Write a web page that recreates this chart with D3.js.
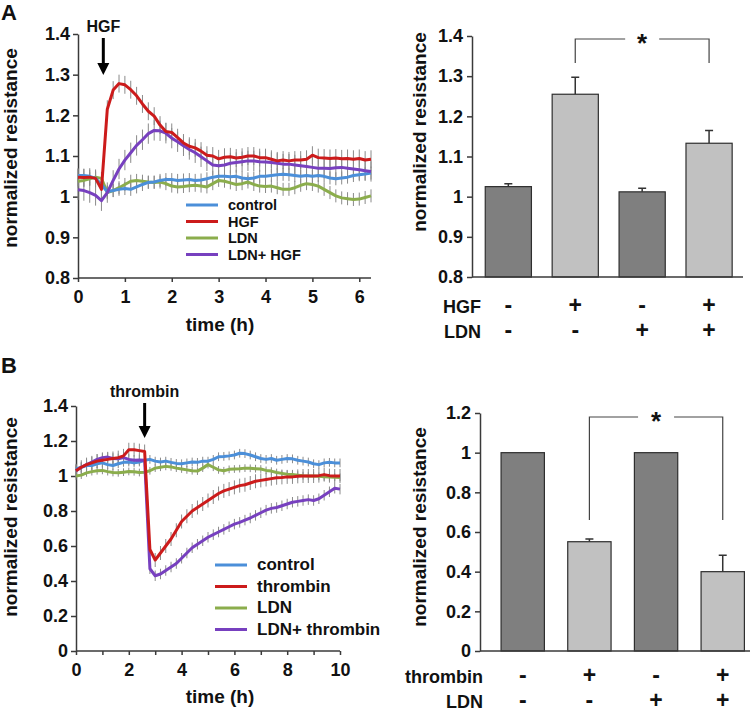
<!DOCTYPE html>
<meta charset="utf-8">
<style>
body { margin: 0; background: #fff; }
svg text { font-family: "Liberation Sans", Arial, sans-serif; font-weight: bold; fill: #111; }
.axis path, .axis line { stroke: #3a3a3a; stroke-width: 1.5px; }
.axis text { font-size: 18px; }
.err { stroke: #8a8a8a; stroke-width: 1px; }
</style>
<svg width="750" height="712"></svg>
<script src="https://d3js.org/d3.v7.min.js"></script>
<script>

// ---- panel A, time course (sampled every 0.125 h) ----
var stepA = 0.125;
var controlA = [
  1.052, 1.052, 1.050, 1.045, 1.030, 1.012, 1.015, 1.018,
  1.020, 1.018, 1.024, 1.030, 1.035, 1.036, 1.040, 1.042,
  1.042, 1.040, 1.041, 1.042, 1.040, 1.041, 1.044, 1.048,
  1.050, 1.050, 1.049, 1.050, 1.046, 1.044, 1.046, 1.050,
  1.050, 1.052, 1.054, 1.055, 1.054, 1.052, 1.050, 1.052,
  1.050, 1.052, 1.050, 1.046, 1.044, 1.046, 1.048, 1.052,
  1.054, 1.056, 1.058];
var hgfA = [
  1.048, 1.047, 1.048, 1.045, 1.018, 1.215, 1.262, 1.278,
  1.275, 1.263, 1.248, 1.228, 1.210, 1.198, 1.176, 1.160,
  1.158, 1.145, 1.132, 1.124, 1.120, 1.112, 1.102, 1.100,
  1.093, 1.097, 1.098, 1.095, 1.097, 1.100, 1.100, 1.096,
  1.096, 1.092, 1.088, 1.090, 1.088, 1.090, 1.090, 1.092,
  1.102, 1.096, 1.095, 1.094, 1.095, 1.093, 1.094, 1.092,
  1.094, 1.090, 1.092];
var ldnA = [
  1.038, 1.040, 1.044, 1.048, 1.045, 1.010, 1.015, 1.022,
  1.030, 1.038, 1.040, 1.038, 1.036, 1.035, 1.036, 1.032,
  1.026, 1.024, 1.025, 1.027, 1.028, 1.026, 1.024, 1.032,
  1.040, 1.038, 1.034, 1.030, 1.032, 1.036, 1.030, 1.026,
  1.025, 1.026, 1.022, 1.018, 1.018, 1.022, 1.028, 1.032,
  1.030, 1.026, 1.018, 1.010, 1.002, 0.997, 0.995, 0.993,
  0.994, 0.998, 1.002];
var ldnHgfA = [
  1.017, 1.015, 1.010, 1.003, 0.990, 1.010, 1.040, 1.068,
  1.090, 1.108, 1.126, 1.140, 1.155, 1.163, 1.162, 1.156,
  1.144, 1.135, 1.125, 1.116, 1.108, 1.098, 1.088, 1.078,
  1.076, 1.078, 1.082, 1.084, 1.086, 1.088, 1.088, 1.086,
  1.085, 1.084, 1.082, 1.080, 1.080, 1.078, 1.076, 1.074,
  1.072, 1.070, 1.070, 1.069, 1.071, 1.072, 1.070, 1.068,
  1.066, 1.064, 1.062];
var errA = [0.016, 0.022, 0.016, 0.025];
var namesA = ["control", "HGF", "LDN", "LDN+ HGF"];
var yTicksA = [0.8, 0.9, 1, 1.1, 1.2, 1.3, 1.4];
var xTicksA = [0, 1, 2, 3, 4, 5, 6];

// ---- panel B, time course (sampled every 0.2 h) ----
var stepB = 0.2;
var controlB = [
  1.040, 1.050, 1.060, 1.060, 1.070,
  1.075, 1.065, 1.060, 1.070, 1.078,
  1.080, 1.075, 1.080, 1.090, 1.095,
  1.085, 1.080, 1.085, 1.078, 1.072,
  1.070, 1.075, 1.080, 1.078, 1.085,
  1.085, 1.095, 1.110, 1.112, 1.115,
  1.120, 1.130, 1.128, 1.120, 1.110,
  1.100, 1.095, 1.100, 1.090, 1.095,
  1.100, 1.098, 1.090, 1.085, 1.080,
  1.070, 1.065, 1.075, 1.078, 1.075,
  1.075];
var thrombinB = [
  1.030, 1.050, 1.065, 1.075, 1.085,
  1.090, 1.095, 1.100, 1.105, 1.115,
  1.150, 1.150, 1.145, 1.140, 0.580,
  0.520, 0.560, 0.600, 0.640, 0.690,
  0.740, 0.770, 0.800, 0.820, 0.840,
  0.860, 0.880, 0.900, 0.915, 0.925,
  0.935, 0.945, 0.950, 0.960, 0.970,
  0.975, 0.980, 0.985, 0.990, 0.992,
  0.995, 0.995, 0.998, 1.000, 1.000,
  1.000, 1.002, 1.008, 1.002, 1.000,
  1.000];
var ldnB = [
  1.000, 1.005, 1.018, 1.025, 1.030,
  1.032, 1.025, 1.020, 1.018, 1.022,
  1.026, 1.024, 1.020, 1.022, 1.030,
  1.045, 1.050, 1.055, 1.052, 1.045,
  1.040, 1.035, 1.030, 1.028, 1.045,
  1.065, 1.050, 1.035, 1.030, 1.038,
  1.040, 1.042, 1.045, 1.044, 1.042,
  1.040, 1.032, 1.028, 1.020, 1.015,
  1.010, 1.008, 1.005, 1.002, 1.000,
  1.000, 0.998, 0.995, 0.994, 0.993,
  0.992];
var ldnThrombinB = [
  1.030, 1.050, 1.065, 1.080, 1.095,
  1.105, 1.108, 1.100, 1.098, 1.105,
  1.095, 1.090, 1.092, 1.090, 0.470,
  0.430, 0.440, 0.460, 0.480, 0.500,
  0.530, 0.560, 0.590, 0.610, 0.630,
  0.650, 0.665, 0.680, 0.695, 0.710,
  0.725, 0.735, 0.748, 0.760, 0.775,
  0.790, 0.805, 0.815, 0.820, 0.830,
  0.840, 0.850, 0.855, 0.860, 0.865,
  0.860, 0.870, 0.890, 0.910, 0.930,
  0.925];
var errB = [0.025, 0.04, 0.022, 0.03];
var namesB = ["control", "thrombin", "LDN", "LDN+ thrombin"];
var yTicksB = [0, 0.2, 0.4, 0.6, 0.8, 1, 1.2, 1.4];
var xTicksB = [0, 1, 2, 3, 4, 5, 6, 7, 8, 9, 10];

// ---- bar charts ----
var barValsA = [1.025, 1.255, 1.012, 1.133];
var barErrsA = [0.007, 0.042, 0.009, 0.032];
var hgfRow = ["-", "+", "-", "+"];
var ldnRowA = ["-", "-", "+", "+"];
var barTicksA = [0.8, 0.9, 1, 1.1, 1.2, 1.3, 1.4];

var barValsB = [1, 0.551, 1, 0.40];
var barErrsB = [0, 0.014, 0, 0.083];
var thrombinRow = ["-", "+", "-", "+"];
var ldnRowB = ["-", "-", "+", "+"];
var barTicksB = [0, 0.2, 0.4, 0.6, 0.8, 1, 1.2];

var colors = ["#4b8fd9", "#cc1b1b", "#8bad4c", "#7740bf"];
var drawOrder = [2, 0, 3, 1];

var svg = d3.select("svg");
var fmt = d3.format("~g");

function lineChart(o) {
  var g = svg.append("g");
  var x = d3.scaleLinear().domain(o.xDomain).range(o.xRange);
  var y = d3.scaleLinear().domain(o.yDomain).range(o.yRange);

  g.append("g").attr("class", "axis")
      .attr("transform", "translate(0," + o.yRange[0] + ")")
      .call(d3.axisBottom(x).tickValues(o.xTicks).tickSize(4).tickSizeOuter(0).tickPadding(o.xPad)
        .tickFormat(o.xFormat))
      .call(a => a.select(".domain").attr("d", "M" + o.xRange[0] + ",0H" + o.xRange[1]));
  g.append("g").attr("class", "axis")
      .attr("transform", "translate(" + o.xRange[0] + ",0)")
      .call(d3.axisLeft(y).tickValues(o.yTicks).tickSize(5).tickSizeOuter(0).tickPadding(3).tickFormat(fmt));

  // error bars behind the lines
  o.series.forEach(function(s, k) {
    g.append("g").selectAll("line").data(s).enter().append("line")
        .attr("class", "err")
        .attr("x1", (d, i) => x(i * o.step)).attr("x2", (d, i) => x(i * o.step))
        .attr("y1", d => y(d - o.err[k])).attr("y2", d => y(d + o.err[k]));
  });

  var line = d3.line().x((d, i) => x(i * o.step)).y(d => y(d));
  drawOrder.forEach(function(k) {
    g.append("path").datum(o.series[k])
        .attr("fill", "none").attr("stroke", colors[k]).attr("stroke-width", 3)
        .attr("stroke-linejoin", "round").attr("d", line);
  });

  // legend
  o.names.forEach(function(n, k) {
    var ly = o.legend[1] + k * o.legend[2];
    g.append("line").attr("x1", o.legend[0]).attr("x2", o.legend[0] + 32)
        .attr("y1", ly).attr("y2", ly).attr("stroke", colors[k]).attr("stroke-width", 3);
    g.append("text").attr("x", o.legend[0] + 42).attr("y", ly + 5)
        .style("font-size", o.legend[3] + "px").text(n);
  });

  // arrow for the treatment
  var ax = x(o.arrowAt);
  g.append("line").attr("x1", ax).attr("x2", ax).attr("y1", o.arrow[0]).attr("y2", o.arrow[1] - 10)
      .attr("stroke", "#000").attr("stroke-width", 3);
  g.append("path").attr("d", "M" + (ax - 6) + "," + (o.arrow[1] - 12) + "L" + (ax + 6) + "," + (o.arrow[1] - 12) + "L" + ax + "," + o.arrow[1] + "Z")
      .attr("fill", "#000");
  g.append("text").attr("x", ax).attr("y", o.arrow[0] - 6).attr("text-anchor", "middle")
      .style("font-size", "16px").text(o.arrowLabel);

  g.append("text").attr("transform", "translate(17," + o.yTitle + ") rotate(-90)")
      .attr("text-anchor", "middle").style("font-size", "19px").text("normalized resistance");
  g.append("text").attr("x", 220).attr("y", o.xTitle).attr("text-anchor", "middle")
      .style("font-size", "19px").text("time (h)");
}

function barChart(o) {
  var g = svg.append("g");
  var x = d3.scaleBand().domain(d3.range(o.vals.length)).range(o.xRange)
      .paddingInner(o.padIn).paddingOuter(o.padOut).align(o.align);
  var y = d3.scaleLinear().domain(o.yDomain).range(o.yRange);

  g.append("g").attr("class", "axis")
      .attr("transform", "translate(" + o.xRange[0] + ",0)")
      .call(d3.axisLeft(y).tickValues(o.yTicks).tickSize(5).tickSizeOuter(0).tickPadding(4).tickFormat(fmt));

  // error bars (upper only)
  g.selectAll(".eb").data(o.vals).enter().append("path")
      .attr("fill", "none").attr("stroke", "#333").attr("stroke-width", 1.5)
      .attr("d", function(d, i) {
        if (!o.errs[i]) return null;
        var cx = x(i) + x.bandwidth() / 2, top = y(d + o.errs[i]);
        return "M" + cx + "," + y(d) + "V" + top + "M" + (cx - 4) + "," + top + "H" + (cx + 4);
      });

  g.selectAll(".bar").data(o.vals).enter().append("rect")
      .attr("x", (d, i) => x(i)).attr("width", x.bandwidth())
      .attr("y", d => y(d)).attr("height", d => o.yRange[0] - y(d))
      .attr("fill", (d, i) => i % 2 ? "#c1c1c1" : "#7f7f7f")
      .attr("stroke", "#2e2e2e").attr("stroke-width", 1.2);

  g.append("line").attr("x1", o.xRange[0]).attr("x2", o.xRange[1])
      .attr("y1", o.yRange[0]).attr("y2", o.yRange[0]).attr("stroke", "#3a3a3a").attr("stroke-width", 1.5);

  // significance bracket between bar 2 and bar 4
  var c1 = x(1) + x.bandwidth() / 2, c3 = x(3) + x.bandwidth() / 2;
  var mid = (c1 + c3) / 2;
  g.append("path").attr("fill", "none").attr("stroke", "#444").attr("stroke-width", 1.2)
      .attr("d", "M" + c1 + "," + o.brk[1] + "V" + o.brk[0] + "H" + (mid - o.brk[2]) +
        "M" + (mid + o.brk[2]) + "," + o.brk[0] + "H" + c3 + "V" + o.brk[1]);
  g.append("text").attr("x", mid).attr("y", o.brk[0] + 13).attr("text-anchor", "middle")
      .style("font-size", "26px").text("*");

  o.rows.forEach(function(r, j) {
    g.append("text").attr("x", o.rowLabelX).attr("y", o.rowY[j]).attr("text-anchor", "end")
        .style("font-size", "18px").text(r.label);
    g.selectAll(null).data(r.marks).enter().append("text")
        .attr("x", (d, i) => x(i) + x.bandwidth() / 2).attr("y", o.rowY[j])
        .attr("text-anchor", "middle").style("font-size", "23px").text(d => d);
  });

  g.append("text").attr("transform", "translate(" + o.yTitleX + "," + o.yTitle + ") rotate(-90)")
      .attr("text-anchor", "middle").style("font-size", "19px").text("normalized resistance");
}

lineChart({
  xDomain: [0, 6.25], xRange: [78, 371], yDomain: [0.8, 1.4], yRange: [278, 34],
  xTicks: xTicksA, yTicks: yTicksA, xFormat: fmt, xPad: 8,
  series: [controlA, hgfA, ldnA, ldnHgfA], err: errA, step: stepA, names: namesA,
  legend: [186, 205, 16.5, 14.5], arrowAt: 0.54, arrow: [38, 75], arrowLabel: "HGF",
  yTitle: 148, xTitle: 331
});

lineChart({
  xDomain: [0, 10], xRange: [76, 340], yDomain: [0, 1.4], yRange: [651, 406],
  xTicks: xTicksB, yTicks: yTicksB, xFormat: d => d % 2 ? "" : d, xPad: 8,
  series: [controlB, thrombinB, ldnB, ldnThrombinB], err: errB, step: stepB, names: namesB,
  legend: [215, 565, 21.5, 17], arrowAt: 2.6, arrow: [403, 438], arrowLabel: "thrombin",
  yTitle: 517, xTitle: 703
});

barChart({
  vals: barValsA, errs: barErrsA, xRange: [472, 743], padIn: 0.31, padOut: 0.18, align: 0.55,
  yDomain: [0.8, 1.4], yRange: [277, 36], yTicks: barTicksA,
  brk: [39, 63, 17],
  rows: [{label: "HGF", marks: hgfRow}, {label: "LDN", marks: ldnRowA}],
  rowY: [313, 338], rowLabelX: 481, yTitleX: 426, yTitle: 132
});

barChart({
  vals: barValsB, errs: barErrsB, xRange: [480, 750], padIn: 0.35, padOut: 0.2, align: 0.79,
  yDomain: [0, 1.2], yRange: [651, 413], yTicks: barTicksB,
  brk: [417, 520, 18],
  rows: [{label: "thrombin", marks: thrombinRow}, {label: "LDN", marks: ldnRowB}],
  rowY: [683, 708], rowLabelX: 483, yTitleX: 426, yTitle: 527
});

svg.append("text").attr("x", 1).attr("y", 20).style("font-size", "22px").text("A");
svg.append("text").attr("x", 1).attr("y", 373).style("font-size", "22px").text("B");

</script>
